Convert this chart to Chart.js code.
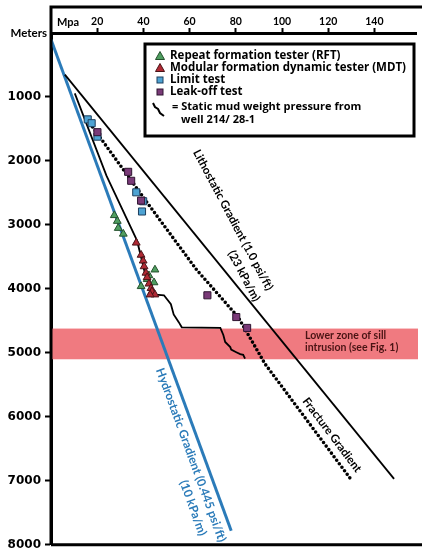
<!DOCTYPE html>
<html>
<head>
<meta charset="utf-8">
<script src="https://cdn.jsdelivr.net/npm/chart.js@4.4.1/dist/chart.umd.min.js"></script>
<style>
  html, body { margin: 0; padding: 0; background: #fff; }
</style>
</head>
<body>
<canvas id="pressure_chart" width="422" height="556"></canvas>
<script>
// tick labels
const xTicks = [20, 40, 60, 80, 100, 120, 140];
const yTicks = [1000, 2000, 3000, 4000, 5000, 6000, 7000, 8000];

// gradients (MPa vs depth in m)
const hydroMpa = [0, 78];
const hydroDepth = [100, 7780];
const lithoMpa = [6, 148.5];
const lithoDepth = [650, 6970];
const fracMpa = [18, 42.4, 63, 81, 92.6, 130.3];
const fracDepth = [1470, 2690, 3700, 4440, 5170, 7000];

// static mud weight pressure, well 214/28-1
const mudMpa = [10.3, 24, 37.3, 41.1, 45.4, 48.9, 51.9, 53.1, 55.3, 56.6, 73.3, 74.6, 75.4, 77.6, 78.0, 80.2, 81.9, 83.2, 84.0];
const mudDepth = [944, 2230, 3250, 3820, 4090, 4100, 4240, 4400, 4520, 4600, 4610, 4720, 4830, 4910, 4950, 4990, 5020, 5030, 5090];

// measurements
const rftMpa = [27.4, 28.7, 29.1, 31.3, 45.0, 42.4, 44.6, 39.0, 41.6];
const rftDepth = [2850, 2940, 3050, 3140, 3700, 3790, 3900, 3960, 3850];
const mdtMpa = [36.9, 39.0, 39.9, 40.3, 41.1, 41.6, 42.4, 43.3, 43.7, 45.0, 42.9];
const mdtDepth = [3280, 3470, 3560, 3650, 3750, 3820, 3920, 3990, 4040, 4090, 4090];
const limitMpa = [15.9, 17.6, 20.1, 36.9, 39.9, 39.4];
const limitDepth = [1350, 1410, 1620, 2490, 2630, 2790];
const leakMpa = [20.1, 33.4, 34.7, 39.0, 67.7, 80.2, 84.9];
const leakDepth = [1550, 2170, 2310, 2620, 4100, 4440, 4610];

// lower zone of sill intrusion (depth range)
const sillZone = [4620, 5100];

const pts = (xs, ys) => xs.map((v, i) => ({ x: v, y: ys[i] }));

const BLUE = '#2b7bb9';

function rotText(ctx, str, x, y, deg, color, font) {
  ctx.save();
  ctx.translate(x, y);
  ctx.rotate(deg * Math.PI / 180);
  ctx.fillStyle = color;
  ctx.font = font;
  ctx.textAlign = 'center';
  ctx.textBaseline = 'middle';
  ctx.fillText(str, 0, 0);
  ctx.restore();
}

const sillBand = {
  id: 'sillBand',
  beforeDatasetsDraw(chart) {
    const { ctx, chartArea: a, scales: { y } } = chart;
    const y1 = y.getPixelForValue(sillZone[0]);
    const y2 = y.getPixelForValue(sillZone[1]);
    ctx.save();
    ctx.fillStyle = '#f07a80';
    ctx.fillRect(a.left, y1, a.right - a.left + 2, y2 - y1);
    ctx.fillStyle = '#4a1414';
    ctx.font = 'bold 10.5px Lato';
    ctx.textBaseline = 'middle';
    ctx.fillText('Lower zone of sill', 305, y1 + 7);
    ctx.fillText('intrusion (see Fig. 1)', 305, y1 + 19);
    ctx.restore();
  }
};

const decorations = {
  id: 'decorations',
  afterDatasetsDraw(chart) {
    const { ctx } = chart;
    rotText(ctx, 'Hydrostatic Gradient (0.445 psi/ft)', 191, 455, 70, BLUE, 'bold 12px Lato');
    rotText(ctx, '(10 kPa/m)', 193, 508, 70, BLUE, 'bold 12px Lato');
    rotText(ctx, 'Lithostatic Gradient (1.0 psi/ft)', 233, 220, 62, '#000', 'bold 11.5px Lato');
    rotText(ctx, '(23 kPa/m)', 244, 276, 62, '#000', 'bold 11.5px Lato');
    rotText(ctx, 'Fracture Gradient', 332, 435, 53, '#000', 'bold 11.5px Lato');
  },
  afterDraw(chart) {
    const { ctx, chartArea: a } = chart;
    ctx.save();
    // outer frame
    ctx.strokeStyle = '#000';
    ctx.lineWidth = 3;
    ctx.beginPath();
    ctx.moveTo(a.left, a.bottom);
    ctx.lineTo(a.left, 7);
    ctx.lineTo(422, 7);
    ctx.moveTo(a.left, a.bottom);
    ctx.lineTo(422, a.bottom);
    ctx.stroke();

    ctx.fillStyle = '#000';
    ctx.font = 'bold 11px Lato';
    ctx.textBaseline = 'middle';
    ctx.fillText('Mpa', 57, 22);
    ctx.textAlign = 'right';
    ctx.font = 'bold 11.5px Lato';
    ctx.fillText('Meters', 47, 33);
    ctx.textAlign = 'left';

    // legend box
    ctx.fillStyle = '#fff';
    ctx.fillRect(145, 44, 269, 92);
    ctx.lineWidth = 3;
    ctx.strokeRect(145, 44, 269, 92);

    const tri = (x, y, fill, stroke) => {
      ctx.beginPath();
      ctx.moveTo(x, y - 4.5); ctx.lineTo(x + 4.5, y + 3.5); ctx.lineTo(x - 4.5, y + 3.5); ctx.closePath();
      ctx.fillStyle = fill; ctx.fill();
      ctx.lineWidth = 1; ctx.strokeStyle = stroke; ctx.stroke();
    };
    const sq = (x, y, fill, stroke) => {
      ctx.fillStyle = fill; ctx.fillRect(x - 3, y - 3, 6, 6);
      ctx.lineWidth = 1; ctx.strokeStyle = stroke; ctx.strokeRect(x - 3, y - 3, 6, 6);
    };
    tri(160, 56, '#4f9e60', '#24502c');
    tri(160, 68, '#b02a34', '#4a1418');
    sq(160, 80, '#4ea3d3', '#1d3f5e');
    sq(160, 92, '#7a3a78', '#2e1430');
    ctx.strokeStyle = '#000';
    ctx.lineWidth = 2;
    ctx.beginPath();
    ctx.moveTo(153, 103); ctx.lineTo(155, 107); ctx.lineTo(158, 109);
    ctx.lineTo(160, 113); ctx.lineTo(164, 116);
    ctx.stroke();

    ctx.fillStyle = '#000';
    ctx.font = 'bold 11.5px "Open Sans"';
    ctx.fillText('Repeat formation tester (RFT)', 170, 56);
    ctx.fillText('Modular formation dynamic tester (MDT)', 170, 68);
    ctx.fillText('Limit test', 170, 80);
    ctx.fillText('Leak-off test', 170, 92);
    ctx.font = 'bold 11px "Open Sans"';
    ctx.fillText('= Static mud weight pressure from', 172, 107);
    ctx.fillText('well 214/ 28-1', 181, 120);
    ctx.restore();
  }
};

const graphic = document.querySelector('#pressure_chart').getContext('2d');
const chart = new Chart(graphic, {
  type: 'scatter',
  data: {
    datasets: [
      { label: 'Leak-off test', data: pts(leakMpa, leakDepth), pointStyle: 'rect', pointRadius: 5,
        backgroundColor: '#7a3a78', borderColor: '#2e1430', borderWidth: 1 },
      { label: 'Limit test', data: pts(limitMpa, limitDepth), pointStyle: 'rect', pointRadius: 5,
        backgroundColor: '#4ea3d3', borderColor: '#1d3f5e', borderWidth: 1 },
      { label: 'MDT', data: pts(mdtMpa, mdtDepth), pointStyle: 'triangle', pointRadius: 4.5,
        backgroundColor: '#b02a34', borderColor: '#4a1418', borderWidth: 1 },
      { label: 'RFT', data: pts(rftMpa, rftDepth), pointStyle: 'triangle', pointRadius: 4.5,
        backgroundColor: '#4f9e60', borderColor: '#24502c', borderWidth: 1 },
      { label: 'Static mud weight', data: pts(mudMpa, mudDepth), showLine: true, pointRadius: 0,
        borderColor: '#000', borderWidth: 1.8 },
      { label: 'Fracture Gradient', data: pts(fracMpa, fracDepth), showLine: true, pointRadius: 0,
        borderColor: '#000', borderWidth: 3.6, borderDash: [0, 4.4], borderCapStyle: 'round' },
      { label: 'Lithostatic Gradient', data: pts(lithoMpa, lithoDepth), showLine: true, pointRadius: 0,
        borderColor: '#000', borderWidth: 1.8 },
      { label: 'Hydrostatic Gradient', data: pts(hydroMpa, hydroDepth), showLine: true, pointRadius: 0,
        borderColor: BLUE, borderWidth: 3 }
    ]
  },
  options: {
    responsive: false,
    animation: false,
    layout: { padding: { top: 0, left: 0, right: 1, bottom: 5 } },
    plugins: { legend: { display: false }, tooltip: { enabled: false } },
    scales: {
      x: {
        type: 'linear', position: 'top', min: 0, max: 158,
        afterBuildTicks: s => { s.ticks = xTicks.map(v => ({ value: v })); },
        afterFit: s => { s.height = 33; },
        grid: { drawOnChartArea: false, tickLength: 5, tickWidth: 2, tickColor: '#000' },
        border: { display: true, width: 3, color: '#000' },
        ticks: { color: '#000', font: { family: 'Lato', weight: 'bold', size: 10.5 }, padding: 0, maxRotation: 0, autoSkip: false }
      },
      y: {
        type: 'linear', reverse: true, min: 0, max: 8000,
        afterBuildTicks: s => { s.ticks = yTicks.map(v => ({ value: v })); },
        afterFit: s => { s.width = 51; },
        grid: { drawOnChartArea: false, tickLength: 6, tickWidth: 2, tickColor: '#000' },
        border: { display: true, width: 3, color: '#000' },
        ticks: { color: '#000', font: { family: 'DejaVu Sans', weight: 'bold', size: 12 }, padding: 4, autoSkip: false,
          callback: v => String(v) }
      }
    }
  },
  plugins: [sillBand, decorations]
});
</script>
</body>
</html>
